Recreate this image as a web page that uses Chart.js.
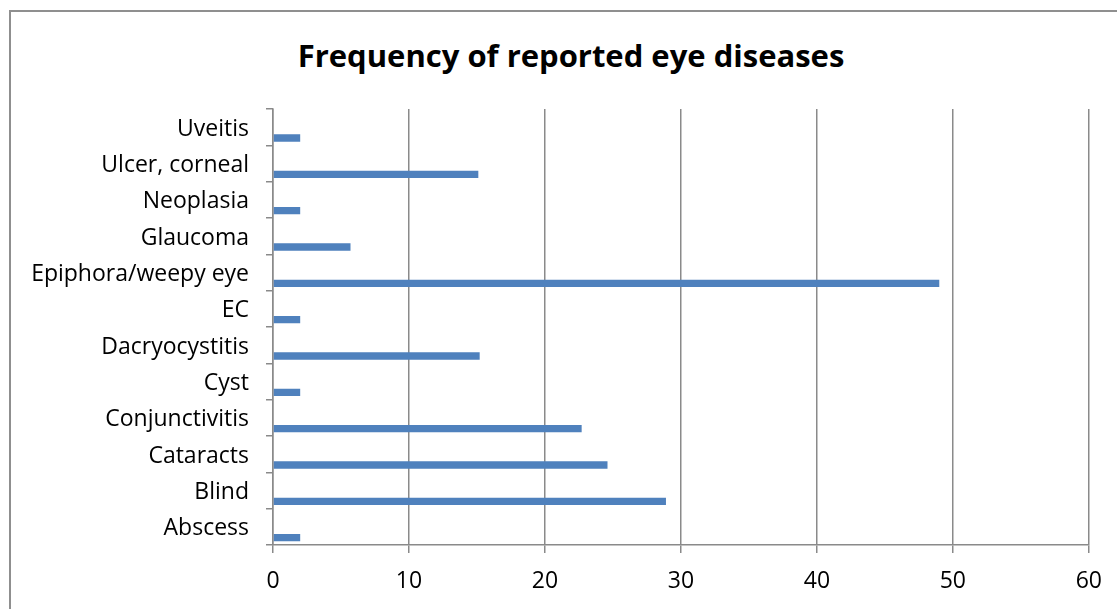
<!DOCTYPE html>
<html>
<head>
<meta charset="utf-8">
<script src="https://cdn.jsdelivr.net/npm/chart.js@4"></script>
<style>
  html, body { margin: 0; padding: 0; background: #fff; overflow: hidden; }
  .frame {
    position: absolute; left: 9px; top: 10px; width: 1200px; height: 700px;
    border: 2px solid #8f8f8f; box-sizing: border-box;
  }
  .title {
    position: absolute; left: 371px; width: 400px; top: 55px; transform: translateY(-50%);
    text-align: center; white-space: nowrap; display: flex; justify-content: center;
    font: bold 31px "Open Sans", sans-serif; color: #000;
  }
  #chart { position: absolute; left: 0; top: 0; }
</style>
</head>
<body>
<div class="frame"></div>
<div class="title">Frequency of reported eye diseases</div>
<canvas id="chart" width="1117" height="609"></canvas>
<script>
const categories = [
  "Abscess", "Blind", "Cataracts", "Conjunctivitis", "Cyst", "Dacryocystitis",
  "EC", "Epiphora/weepy eye", "Glaucoma", "Neoplasia", "Ulcer, corneal", "Uveitis"
];
const frequency = [2, 28.9, 24.6, 22.7, 2, 15.2, 2, 49, 5.7, 2, 15.1, 2];
const xTicks = [0, 10, 20, 30, 40, 50, 60];

const FONT = "Open Sans";
const GRID = "#8a8a8a";

new Chart(document.getElementById("chart"), {
  type: "bar",
  data: {
    labels: categories,
    datasets: [
      // empty first series, pushes the real bars to the lower half of each band
      { data: categories.map(() => null), backgroundColor: "#4f81bd" },
      { data: frequency, backgroundColor: "#4f81bd" }
    ]
  },
  options: {
    indexAxis: "y",
    responsive: false,
    animation: false,
    categoryPercentage: 1.19,
    barPercentage: 0.34,
    layout: { padding: { left: 0, right: 27, top: 109, bottom: 0 } },
    plugins: {
      legend: { display: false },
      tooltip: { enabled: false },
      title: { display: false }
    },
    scales: {
      x: {
        min: 0,
        max: 60,
        afterBuildTicks: (s) => { s.ticks = xTicks.map((v) => ({ value: v })); },
        grid: { color: GRID, lineWidth: 1.5, tickLength: 8, tickColor: GRID },
        border: { color: GRID, width: 1.5 },
        ticks: { color: "#000", padding: 15, font: { family: FONT, size: 23, lineHeight: 1.2 } },
        afterFit: (s) => { s.height = 64; }
      },
      y: {
        reverse: true,
        grid: { drawOnChartArea: false, tickLength: 7, color: GRID, lineWidth: 1.5 },
        border: { color: GRID, width: 1.5 },
        ticks: { color: "#000", padding: 17, labelOffset: 2, font: { family: FONT, size: 23 }, autoSkip: false },
        afterFit: (s) => { s.width = 273; }
      }
    }
  }
});
</script>
</body>
</html>
